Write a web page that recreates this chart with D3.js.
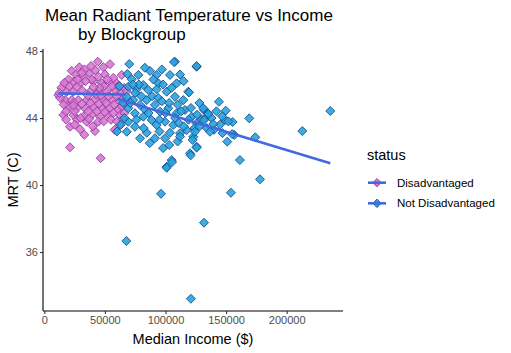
<!DOCTYPE html>
<html>
<head>
<meta charset="utf-8">
<script src="https://cdn.jsdelivr.net/npm/d3@7"></script>
<style>
  body { margin: 0; background: #fff; }
  text { font-family: "Liberation Sans", Arial, sans-serif; }
</style>
</head>
<body>
<div id="chart"></div>
<script>
// Daten: [Median Income, MRT]
const disadvantaged = [
  [28900,47.03],[44100,47.36],[54200,47.21],[48700,47.03],[22600,46.82],[37700,46.67],[32200,46.47],[44600,46.47],
  [17100,46.07],[23900,46.17],[29500,46.07],[40400,46.17],[47400,46.07],[54200,46.17],[59700,46.07],[63900,46.57],
  [11550,45.37],[18500,45.57],[23900,45.57],[30900,45.67],[37700,45.57],[44600,45.67],[51500,45.57],[58300,45.67],
  [63900,45.47],[17100,45.07],[22600,45.07],[28000,45.07],[35000,45.07],[41800,45.12],[48700,45.07],[55600,45.07],
  [62500,44.97],[19800,44.67],[26700,44.58],[33600,44.58],[40400,44.67],[47400,44.58],[54200,44.58],[61100,44.48],
  [15700,44.18],[23900,44.18],[32200,44.08],[39100,44.18],[46000,44.08],[52800,44.18],[62500,44.18],[21200,43.48],
  [29500,43.33],[41800,43.22],[44600,43.78],[35000,43.78],[21200,42.25],[46500,41.6],[62500,43.58],
  [14000,45.8],[20000,46.3],[26000,46.6],[33000,46.9],[39000,46.3],[42000,46.85],[50000,46.6],[57000,46.4],
  [61000,45.9],[66000,45.8],[13000,45.2],[20500,45.9],[27000,45.85],[34000,46.2],[36000,45.35],[43000,45.4],
  [49000,45.9],[53000,45.3],[60000,45.3],[65500,45.2],[16000,44.8],[24500,44.9],[31000,44.85],[38000,44.9],
  [45000,44.85],[51000,44.9],[57500,44.8],[64000,44.7],[18000,44.4],[25000,44.4],[36500,44.4],[43500,44.4],
  [50000,44.35],[57000,44.3],[66000,44.3],[27000,43.9],[30000,44.0],[37000,43.95],[49000,43.8],[55000,43.9],
  [60000,43.8],[65000,43.9],[18000,43.9],[25000,43.6],[40000,43.5],[58000,43.3],[33000,43.0],[67000,44.9],
  [68000,45.6],[12500,45.5],[16500,46.1],[27500,46.3],[45500,45.8],[52000,46.3],[38500,47.1],[31000,46.7],
  [56000,45.9],[24000,44.75],[47000,45.35],[40500,45.85]
];

const notDisadvantaged = [
  [70100,47.22],[77600,46.57],[68500,46.63],[72100,46.31],[87200,46.81],[92700,46.57],[94100,46.07],[103700,46.57],
  [107800,47.36],[109200,46.07],[125700,47.06],[69300,45.87],[76200,45.71],[81700,45.97],[85800,45.67],[92700,45.71],
  [101000,45.57],[107800,45.27],[114700,45.07],[118800,45.57],[68000,45.27],[73400,45.07],[79000,44.78],[84500,45.07],
  [91300,44.78],[95500,44.38],[102300,44.58],[109200,44.28],[116100,44.48],[121600,44.08],[69300,44.58],[74800,44.28],
  [81700,44.08],[88600,43.88],[92700,43.58],[99600,43.78],[106400,43.58],[112000,43.09],[117500,43.28],[122900,42.88],
  [69300,43.78],[74800,43.48],[79000,42.79],[68000,43.18],[84500,43.12],[91300,42.79],[99600,42.79],[103700,43.12],
  [125700,42.29],[120200,41.89],[105100,41.49],[101000,41.09],[125700,43.68],
  [62000,45.9],[65000,44.9],[66000,44.0],[60000,43.2],[63000,43.6],[71000,44.9],[75000,45.5],[78000,46.0],
  [80000,45.3],[83000,44.5],[86000,44.3],[89000,45.3],[90000,46.3],[94000,45.2],[97000,45.0],[98000,46.0],
  [100000,44.3],[103000,44.9],[105000,45.8],[108000,44.0],[110000,44.8],[111000,43.7],[113000,44.4],[115000,43.5],
  [119000,43.9],[121000,44.6],[124000,43.4],[126000,44.2],[128000,43.5],[130000,43.9],[133000,44.0],[134000,43.4],
  [138000,44.0],[140000,43.3],[142000,44.4],[145000,43.6],[147000,43.1],[76000,43.9],[82000,43.4],[87000,42.5],
  [95000,43.2],[98000,42.2],[110000,42.6],[115000,46.2],[112000,46.6],[97000,46.9],[83000,47.0],[73000,46.0],
  [95000,43.9],[128000,44.9],
  [236000,44.42],[212900,43.22],[178000,40.34],[161400,41.49],[154000,39.54],[121000,33.21],[67700,36.66],[96300,39.48],
  [131800,37.75],[125700,47.1],[107000,47.34],[169100,43.98],[174100,42.85],[144100,44.97],[149700,44.44],[155400,43.76],
  [151000,42.59],[156800,42.99],[120800,41.77],[125700,42.23],[105400,41.37],[101000,41.03],[103100,42.39],[119400,45.53],
  [131800,44.48],[135000,44.28],[139400,43.64],[149100,43.88],[124300,43.18],[112000,42.89],[122400,42.69],[155000,43.04],
  [146700,44.1],[151800,43.8],[131200,44.58],[135300,44.24],[136700,43.18],[131800,43.88]
];

// lineare Trends (Endpunkte)
const trendDisadvantaged = [[11550,45.47],[67000,45.40]];
const trendNotDisadvantaged = [[60000,45.15],[236000,41.30]];

const statusLabels = ["Disadvantaged", "Not Disadvantaged"];
const xTicks = [0, 50000, 100000, 150000, 200000];
const yTicks = [36, 40, 44, 48];

const width = 511, height = 353;
const panel = { left: 43, right: 343, top: 49, bottom: 311 };

const fillColor = d3.scaleOrdinal().domain(statusLabels).range(["#DA78CF", "#27A3E0"]);
const strokeColor = d3.scaleOrdinal().domain(statusLabels).range(["#8A3FA6", "#1D4F8C"]);
const lineColor = "#4169E1";

const svg = d3.select("#chart").append("svg")
  .attr("width", width)
  .attr("height", height);

const x = d3.scaleLinear().domain([-1100, 246500]).range([panel.left, panel.right]);
const y = d3.scaleLinear().domain([32.48, 48.12]).range([panel.bottom, panel.top]);

const diamond = (r) => `M0,${-r}L${r},0L0,${r}L${-r},0Z`;

// Punkte
const groups = [
  { status: "Disadvantaged", points: disadvantaged, trend: trendDisadvantaged },
  { status: "Not Disadvantaged", points: notDisadvantaged, trend: trendNotDisadvantaged }
];

groups.forEach(g => {
  svg.append("g").selectAll("path")
    .data(g.points)
    .join("path")
    .attr("transform", d => `translate(${x(d[0])},${y(d[1])})`)
    .attr("d", diamond(4.5))
    .attr("fill", fillColor(g.status))
    .attr("fill-opacity", 0.9)
    .attr("stroke", strokeColor(g.status))
    .attr("stroke-width", 0.9);
});

// Trendlinien
const line = d3.line().x(d => x(d[0])).y(d => y(d[1]));
groups.forEach(g => {
  svg.append("path")
    .datum(g.trend)
    .attr("d", line)
    .attr("fill", "none")
    .attr("stroke", lineColor)
    .attr("stroke-width", 2.6);
});

// Achsen
const xAxis = svg.append("g")
  .attr("transform", `translate(0,${panel.bottom})`)
  .call(d3.axisBottom(x).tickValues(xTicks).tickFormat(d3.format("d")).tickSize(3).tickPadding(2));
const yAxis = svg.append("g")
  .attr("transform", `translate(${panel.left},0)`)
  .call(d3.axisLeft(y).tickValues(yTicks).tickSize(3).tickPadding(2));

[xAxis, yAxis].forEach(a => {
  a.select(".domain").attr("stroke", "#000").attr("stroke-width", 1.1);
  a.selectAll(".tick line").attr("stroke", "#333").attr("stroke-width", 1.1);
  a.selectAll(".tick text")
    .attr("fill", "#4D4D4D")
    .style("font-size", "11px")
    .style("font-family", "Liberation Sans, Arial, sans-serif");
});
xAxis.select(".domain").attr("d", `M${panel.left},0H${panel.right}`);
yAxis.select(".domain").attr("d", `M0,${panel.top}V${panel.bottom}`);

// Titel
svg.append("text")
  .attr("x", 45).attr("y", 20.5)
  .attr("font-size", "17px")
  .text("Mean Radiant Temperature vs Income");
svg.append("text")
  .attr("x", 78).attr("y", 39.5)
  .attr("font-size", "17px")
  .text("by Blockgroup");

// Achsentitel
svg.append("text")
  .attr("x", (panel.left + panel.right) / 2)
  .attr("y", 344)
  .attr("text-anchor", "middle")
  .attr("font-size", "14.5px")
  .text("Median Income ($)");

svg.append("text")
  .attr("transform", `translate(18,${(panel.top + panel.bottom) / 2}) rotate(-90)`)
  .attr("text-anchor", "middle")
  .attr("font-size", "14.5px")
  .text("MRT (C)");

// Legende
const legend = svg.append("g").attr("transform", "translate(367,0)");
legend.append("text")
  .attr("x", 0)
  .attr("y", 160)
  .attr("font-size", "14.5px")
  .text("status");

statusLabels.forEach((item, i) => {
  const cy = 182.7 + i * 20.6;
  const itemG = legend.append("g").attr("transform", `translate(0,${cy})`);
  itemG.append("path")
    .attr("transform", "translate(10,0)")
    .attr("d", diamond(4.2))
    .attr("fill", fillColor(item))
    .attr("stroke", strokeColor(item))
    .attr("stroke-width", 0.9);
  itemG.append("line")
    .attr("x1", 1).attr("x2", 19)
    .attr("stroke", lineColor)
    .attr("stroke-width", 2.6);
  itemG.append("text")
    .attr("x", 30)
    .attr("y", 4)
    .attr("font-size", "11.5px")
    .text(item);
});
</script>
</body>
</html>
